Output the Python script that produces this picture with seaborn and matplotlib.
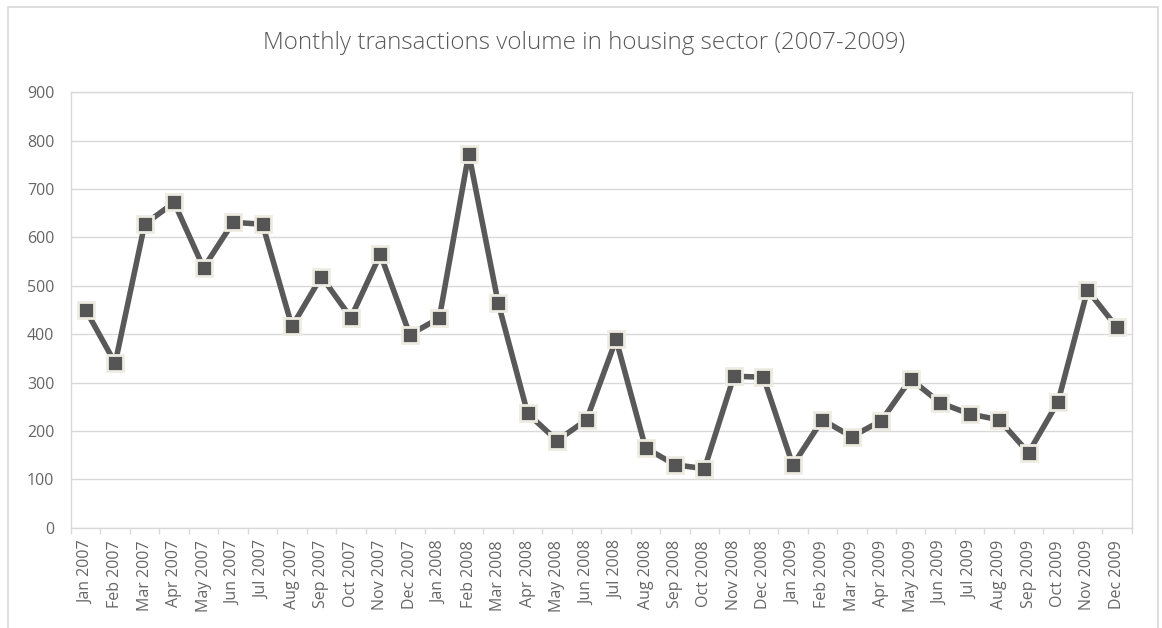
import matplotlib
matplotlib.use("Agg")
import matplotlib.pyplot as plt
from matplotlib.patches import Rectangle
from matplotlib.ticker import FixedLocator
import seaborn as sns
import pandas as pd
import numpy as np

# Data
months = ["Jan", "Feb", "Mar", "Apr", "May", "Jun",
          "Jul", "Aug", "Sep", "Oct", "Nov", "Dec"]
years = [2007, 2008, 2009]
month_labels = [f"{m} {y}" for y in years for m in months]

volume = [450, 340, 627, 672, 537, 631, 627, 416, 519, 434, 565, 399,
          433, 773, 464, 236, 180, 223, 389, 165, 130, 122, 313, 311,
          129, 223, 188, 221, 307, 258, 235, 223, 155, 260, 491, 414]

title = "Monthly transactions volume in housing sector (2007-2009)"

df = pd.DataFrame({"month": month_labels, "volume": volume})

sns.set_theme(style="white")
plt.rcParams['font.family'] = ['Open Sans', 'DejaVu Sans']

grey_text = "#595959"
tick_text = "#666666"
grid_col = "#D9D9D9"

fig = plt.figure(figsize=(11.62, 6.28), dpi=100)
ax = fig.add_axes([0.0611, 0.1597, 0.9128, 0.6936])

sns.lineplot(data=df, x="month", y="volume", sort=False, ax=ax,
             color="#595959", linewidth=4, marker="s", markersize=12,
             markerfacecolor="#555555", markeredgecolor="#EEECE1",
             markeredgewidth=2, zorder=3)

ax.set_xlim(-0.5, len(month_labels) - 0.5)
ax.set_ylim(0, 900)
ax.set_yticks(np.arange(0, 901, 100))
ax.set_xticks(range(len(month_labels)))
ax.set_xticklabels(month_labels, rotation=90)
ax.xaxis.set_minor_locator(FixedLocator(np.arange(-0.5, len(month_labels), 1)))

ax.tick_params(axis="x", which="major", length=0, pad=9,
               labelsize=11.5, labelcolor=tick_text)
ax.tick_params(axis="x", which="minor", length=4, width=1, color=grid_col,
               bottom=True)
ax.tick_params(axis="y", length=0, pad=12, labelsize=11.5, labelcolor=tick_text)

ax.grid(axis="y", color=grid_col, linewidth=1)
ax.set_axisbelow(True)
for side in ["left", "right", "top", "bottom"]:
    ax.spines[side].set_color(grid_col)
    ax.spines[side].set_linewidth(1)

ax.set_xlabel("")
ax.set_ylabel("")

fig.text(0.503, 0.931, title, ha="center", va="center",
         fontsize=17.4, fontweight="light", color=grey_text)

# outer chart frame
fig.add_artist(Rectangle((8 / 1162, -0.02), 1150 / 1162, 1.02 - 7 / 628,
                         transform=fig.transFigure, fill=False,
                         edgecolor=grid_col, linewidth=1.2))

fig.savefig("out.png", dpi=100, facecolor="white")
